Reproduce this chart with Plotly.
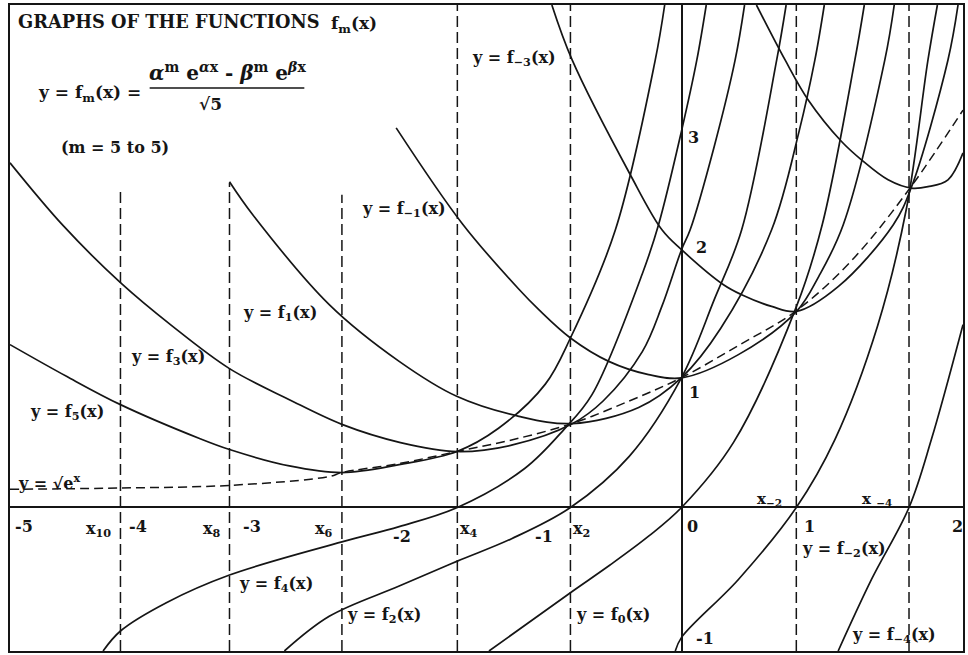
import plotly.graph_objects as go

# ---DATA (chart units: x along the axis, y up)---
f5_x = [-5.137, -4.705, -4.292, -3.687, -3.458, -3.0, -2.598, -2.16, -1.718, -1.4, -1.042, -0.85, -0.506, -0.201, -0.129]
f5_y = [1.254, 1.01, 0.792, 0.531, 0.446, 0.32, 0.269, 0.33, 0.431, 0.61, 0.95, 1.305, 2.138, 3.446, 3.869]

f4_x = [-4.425, -4.292, -3.941, -3.458, -2.598, -2.16, -1.715, -1.2, -0.9, -0.685, -0.3, -0.176, 0.0, 0.117, 0.189]
f4_y = [-1.105, -0.951, -0.733, -0.52, -0.265, -0.147, 0.0, 0.30, 0.60, 0.869, 1.80, 2.177, 2.9, 3.446, 3.869]

f3_x = [-5.137, -4.73, -4.292, -3.9, -3.458, -3.0, -2.598, -2.15, -1.718, -1.3, -0.837, -0.6, -0.3, -0.15, 0.0, 0.066, 0.25, 0.41, 0.482]
f3_y = [2.654, 2.17, 1.731, 1.40, 1.069, 0.83, 0.64, 0.50, 0.431, 0.48, 0.644, 0.82, 1.2, 1.55, 1.985, 2.138, 2.78, 3.446, 3.869]

f2_x = [-3.038, -2.695, -2.16, -1.715, -1.3, -0.85, -0.4, 0.0, 0.25, 0.46, 0.728, 0.80]
f2_y = [-1.105, -0.838, -0.605, -0.413, -0.24, 0.0, 0.394, 1.0, 1.6, 2.138, 3.446, 3.869]

f1_x = [-3.458, -3.28, -2.695, -2.16, -1.72, -1.244, -0.837, -0.328, 0.0, 0.3, 0.689, 0.9, 1.02, 1.092]
f1_y = [2.508, 2.254, 1.562, 1.125, 0.856, 0.702, 0.646, 0.77, 1.0, 1.38, 2.138, 2.9, 3.446, 3.869]

f0_x = [-1.473, -0.85, -0.55, -0.252, 0.0, 0.4, 0.88, 1.076, 1.326, 1.398]
f0_y = [-1.105, -0.656, -0.445, -0.221, 0.0, 0.505, 1.55, 2.177, 3.446, 3.869]

fm1_x = [-2.183, -1.677, -1.244, -1.092, -0.85, -0.557, -0.252, 0.0, 0.435, 0.88, 1.05, 1.237, 1.555, 1.627]
fm1_y = [2.923, 2.185, 1.68, 1.523, 1.305, 1.125, 1.023, 0.998, 1.177, 1.51, 1.78, 2.177, 3.446, 3.869]

fm2_x = [-0.048, 0.0, 0.435, 0.878, 1.173, 1.5, 1.72, 1.885, 1.957]
fm2_y = [-1.105, -1.0, -0.554, 0.0, 0.523, 1.4, 2.3, 3.446, 3.869]

fm3_x = [-0.992, -0.837, -0.392, -0.15, 0.0, 0.321, 0.46, 0.689, 0.88, 1.198, 1.62, 1.756, 2.038, 2.115]
fm3_y = [3.869, 3.446, 2.562, 2.138, 1.985, 1.715, 1.638, 1.548, 1.51, 1.70, 2.177, 2.46, 3.446, 3.869]

fm4_x = [1.198, 1.453, 1.74, 1.911, 2.153]
fm4_y = [-1.105, -0.554, 0.0, 0.523, 1.408]

fm5_x = [0.573, 0.792, 0.969, 1.224, 1.376, 1.58, 1.758, 1.885, 2.038, 2.153]
fm5_y = [3.869, 3.446, 3.138, 2.818, 2.677, 2.523, 2.459, 2.47, 2.523, 2.73]

# y = sqrt(e^x), the dashed curve through the minima
env_x = [-5.137, -4.292, -3.458, -2.695, -2.598, -2.15, -1.718, -1.3, -0.84, -0.4, 0.0, 0.44, 0.878, 1.3, 1.748, 2.153]
env_y = [0.14, 0.15, 0.17, 0.238, 0.269, 0.34, 0.431, 0.52, 0.646, 0.82, 1.0, 1.25, 1.515, 1.9, 2.46, 3.06]

# dashed verticals at x_10, x_8, x_6, x_4, x_2, x_-2, x_-4
xn_pos = [-4.292, -3.458, -2.598, -1.715, -0.85, 0.878, 1.74]
xn_top = [2.446, 2.5, 2.408, 3.869, 3.869, 3.869, 3.869]

X_RANGE = [-5.137, 2.153]
Y_RANGE = [-1.105, 3.869]

INK = '#151515'
FONT = 'DejaVu Serif'

fig = go.Figure()

#---DASHED VERTICALS---
for xv, top in zip(xn_pos, xn_top):
    fig.add_trace(go.Scatter(
        x=[xv, xv], y=[Y_RANGE[0], top],
        mode='lines',
        line=dict(color=INK, width=1.5, dash='11px,5px'),
        showlegend=False, hoverinfo='skip'))

#---ENVELOPE---
fig.add_trace(go.Scatter(
    x=env_x, y=env_y,
    mode='lines', line_shape='spline',
    line=dict(color=INK, width=1.5, dash='9px,5px'),
    showlegend=False))

#---CURVES---
curves = [(f5_x, f5_y), (f4_x, f4_y), (f3_x, f3_y), (f2_x, f2_y), (f1_x, f1_y),
          (f0_x, f0_y), (fm1_x, fm1_y), (fm2_x, fm2_y), (fm3_x, fm3_y),
          (fm4_x, fm4_y), (fm5_x, fm5_y)]
for cx, cy in curves:
    fig.add_trace(go.Scatter(
        x=cx, y=cy,
        mode='lines', line_shape='spline',
        line=dict(color=INK, width=1.7),
        showlegend=False))

#---TEXT---
def at(px, py):
    # position on the original picture (pixels) -> chart units, for labels only
    return (px - 683) / 131, (508 - py) / 130

labels = [
    ('<b>GRAPHS OF THE FUNCTIONS</b>', 16, 22, 17.8),
    ('<b>f<sub>m</sub>(x)</b>', 330, 25, 17),
    ('<b>y = f<sub>m</sub>(x) =</b>', 36, 94, 17),
    ('<b>(m = 5 to 5)</b>', 59, 148, 16),
    ('<b>y = f<sub>−3</sub>(x)</b>', 471, 59, 16),
    ('<b>y = f<sub>−1</sub>(x)</b>', 361, 210, 16),
    ('<b>y = f<sub>1</sub>(x)</b>', 242, 314, 16),
    ('<b>y = f<sub>3</sub>(x)</b>', 129, 358, 16),
    ('<b>y = f<sub>5</sub>(x)</b>', 28, 413, 16),
    ('<b>y = √e<sup>x</sup></b>', 16, 482, 16),
    ('<b>y = f<sub>4</sub>(x)</b>', 238, 585, 16),
    ('<b>y = f<sub>2</sub>(x)</b>', 346, 616, 16),
    ('<b>y = f<sub>0</sub>(x)</b>', 575, 616, 16),
    ('<b>y = f<sub>−2</sub>(x)</b>', 802, 550, 16),
    ('<b>y = f<sub>−4</sub>(x)</b>', 852, 636, 16),
    ('<b>-5</b>', 13, 527, 16),
    ('<b>x<sub>10</sub></b>', 84, 530, 16),
    ('<b>-4</b>', 127, 527, 16),
    ('<b>x<sub>8</sub></b>', 201, 530, 16),
    ('<b>-3</b>', 242, 527, 16),
    ('<b>x<sub>6</sub></b>', 314, 530, 16),
    ('<b>-2</b>', 392, 537, 16),
    ('<b>x<sub>4</sub></b>', 459, 530, 16),
    ('<b>-1</b>', 534, 537, 16),
    ('<b>x<sub>2</sub></b>', 572, 530, 16),
    ('<b>0</b>', 686, 527, 16),
    ('<b>1</b>', 804, 527, 16),
    ('<b>2</b>', 952, 527, 16),
    ('<b>x<sub>−2</sub></b>', 757, 500, 15),
    ('<b>x <sub>−4</sub></b>', 862, 500, 15),
    ('<b>1</b>', 688, 393, 16),
    ('<b>2</b>', 695, 248, 16),
    ('<b>3</b>', 687, 138, 16),
    ('<b>-1</b>', 695, 639, 16),
]
for text, lx, ly, size in labels:
    ax_, ay_ = at(lx, ly)
    fig.add_annotation(x=ax_, y=ay_, text=text, showarrow=False,
                       xanchor='left', yanchor='middle',
                       font=dict(family=FONT, size=size, color=INK))

# numerator, fraction bar and denominator of the formula
nx, ny = at(228, 72)
fig.add_annotation(x=nx, y=ny, showarrow=False, xanchor='center', yanchor='middle',
                   text='<b><i>α</i><sup>m</sup> e<sup><i>α</i>x</sup> - <i>β</i><sup>m</sup> e<sup><i>β</i>x</sup></b>',
                   font=dict(family=FONT, size=20, color=INK))
bx0, by0 = at(150, 88)
bx1, _ = at(305, 88)
fig.add_shape(type='line', x0=bx0, x1=bx1, y0=by0, y1=by0, line=dict(color=INK, width=1.5))
dx, dy = at(211, 104)
fig.add_annotation(x=dx, y=dy, showarrow=False, xanchor='center', yanchor='middle',
                   text='<b>√5</b>', font=dict(family=FONT, size=17, color=INK))

#---STYLE---
fig.update_layout(
    width=968, height=655,
    margin=dict(l=10, r=3, t=5, b=4),
    plot_bgcolor='white', paper_bgcolor='white',
    showlegend=False)
fig.update_xaxes(range=X_RANGE, showgrid=False, showticklabels=False, ticks='',
                 zeroline=True, zerolinecolor=INK, zerolinewidth=2,
                 showline=True, mirror=True, linecolor=INK, linewidth=2)
fig.update_yaxes(range=Y_RANGE, showgrid=False, showticklabels=False, ticks='',
                 zeroline=True, zerolinecolor=INK, zerolinewidth=2,
                 showline=True, mirror=True, linecolor=INK, linewidth=2)

# page body has a default margin; drop it so the figure sits at the corner
fig.write_html("out.html", config={'displayModeBar': False},
               post_script="document.body.style.margin='0';")
